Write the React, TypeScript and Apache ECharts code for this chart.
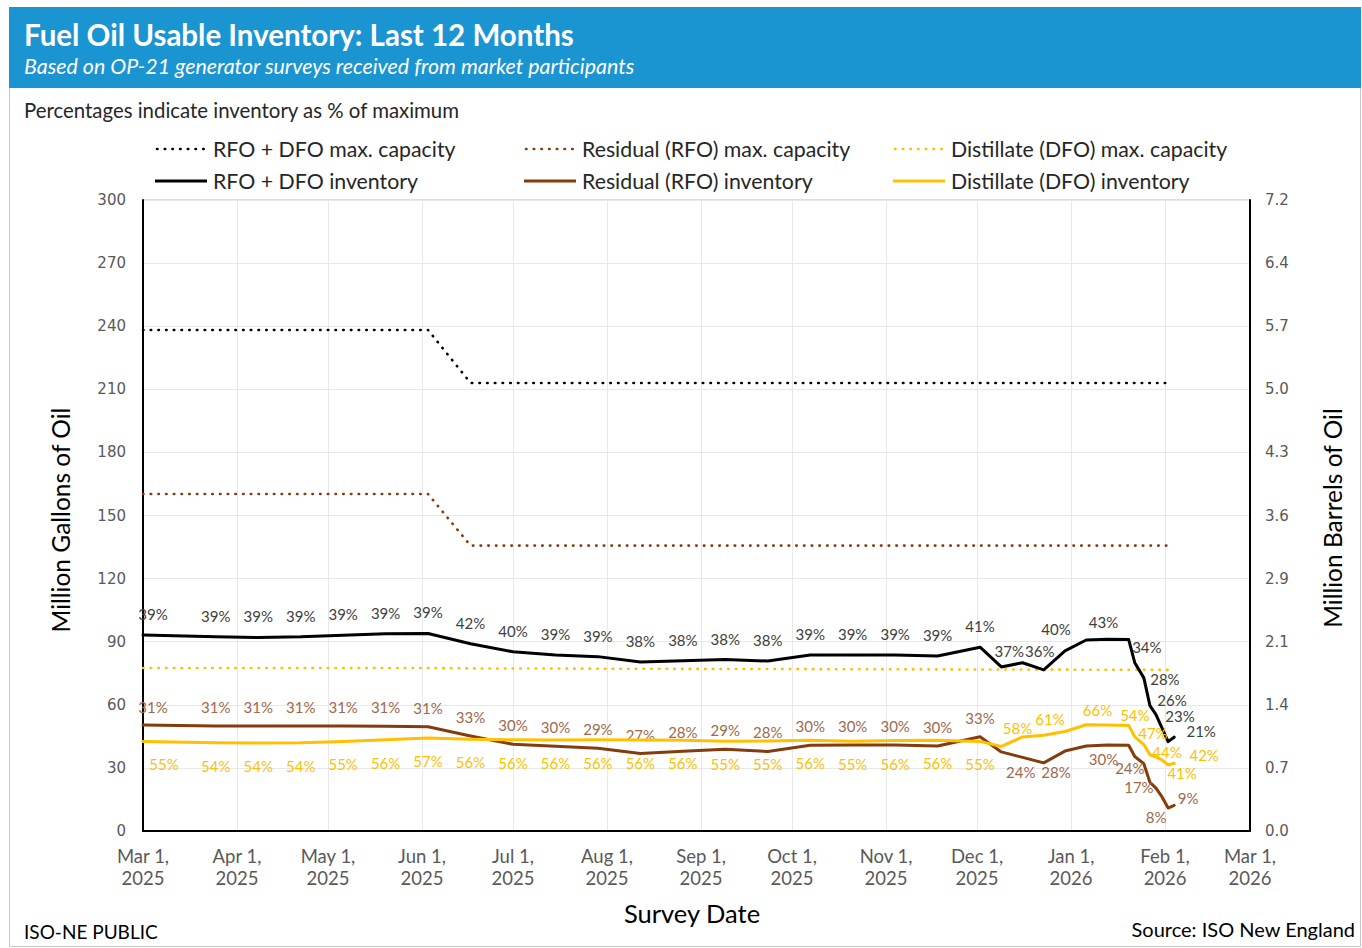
import React, { useEffect, useRef } from 'react';
import * as echarts from 'echarts';

// ---------- data ----------
const SURVEY_DATES = [
  '2025-03-01', '2025-03-25', '2025-04-08', '2025-04-22', '2025-05-06', '2025-05-20', '2025-06-03',
  '2025-06-17', '2025-07-01', '2025-07-15', '2025-07-29', '2025-08-12', '2025-08-26', '2025-09-09',
  '2025-09-23', '2025-10-07', '2025-10-21', '2025-11-04', '2025-11-18', '2025-12-02', '2025-12-09',
  '2025-12-16', '2025-12-23', '2025-12-30', '2026-01-06', '2026-01-13', '2026-01-20', '2026-01-22',
  '2026-01-25', '2026-01-27', '2026-01-29', '2026-01-31', '2026-02-02', '2026-02-04',
];
const TOTAL_INV = [
  93.2, 92.4, 92.0, 92.3, 93.1, 93.8, 93.9, 89.0, 85.2, 83.7, 82.9, 80.3, 81.0, 81.5, 80.8, 83.7, 83.7,
  83.7, 83.2, 87.4, 78.0, 80.0, 76.6, 85.6, 90.8, 91.2, 91.0, 80.0, 72.8, 59.6, 55.3, 48.9, 42.5, 44.6,
];
const RFO_INV = [
  50.4, 49.9, 49.9, 49.9, 49.9, 49.8, 49.6, 45.2, 41.2, 40.3, 39.3, 36.8, 37.9, 38.9, 37.8, 40.8, 40.9,
  40.9, 40.4, 44.8, 37.6, 35.0, 32.4, 38.0, 40.4, 40.9, 40.8, 35.4, 32.0, 23.2, 20.4, 16.2, 10.9, 12.2,
];
const DFO_INV = [
  42.6, 41.9, 41.8, 41.9, 42.6, 43.4, 44.2, 43.6, 43.4, 43.3, 43.4, 43.3, 43.2, 42.7, 42.8, 43.1, 42.7,
  43.0, 43.1, 42.6, 40.2, 44.7, 45.5, 47.3, 50.5, 50.4, 50.2, 44.8, 41.1, 36.2, 35.2, 33.8, 31.4, 32.2,
];
const TOTAL_PCT = [
  '39%', '39%', '39%', '39%', '39%', '39%', '39%', '42%', '40%', '39%', '39%', '38%', '38%', '38%',
  '38%', '39%', '39%', '39%', '39%', '41%', '37%', '', '36%', '40%', '', '43%', '', '', '34%', '28%',
  '26%', '23%', '', '21%',
];
const RFO_PCT = [
  '31%', '31%', '31%', '31%', '31%', '31%', '31%', '33%', '30%', '30%', '29%', '27%', '28%', '29%',
  '28%', '30%', '30%', '30%', '30%', '33%', '', '', '24%', '28%', '', '30%', '', '', '24%', '17%',
  '', '', '8%', '9%',
];
const DFO_PCT = [
  '55%', '54%', '54%', '54%', '55%', '56%', '57%', '56%', '56%', '56%', '56%', '56%', '56%', '55%',
  '55%', '56%', '55%', '56%', '56%', '55%', '', '58%', '', '61%', '', '66%', '', '', '54%', '47%',
  '', '44%', '41%', '42%',
];
const CAP_DATES = ['2025-03-01', '2025-06-03', '2025-06-17', '2026-02-03'];
const TOTAL_CAP = [238.2, 238.2, 213.0, 213.0];
const RFO_CAP = [160.2, 160.2, 135.7, 135.7];
const DFO_CAP = [77.5, 77.5, 77.3, 76.6];

const SERIES_NAMES = [
  'RFO + DFO max. capacity', 'Residual (RFO) max. capacity', 'Distillate (DFO) max. capacity',
  'RFO + DFO inventory', 'Residual (RFO) inventory', 'Distillate (DFO) inventory',
];
const MONTHS = ['Jan', 'Feb', 'Mar', 'Apr', 'May', 'Jun', 'Jul', 'Aug', 'Sep', 'Oct', 'Nov', 'Dec'];
const GALLON_TICKS = ['0', '30', '60', '90', '120', '150', '180', '210', '240', '270', '300'];
const BARREL_TICKS = ['0.0', '0.7', '1.4', '2.1', '2.9', '3.6', '4.3', '5.0', '5.7', '6.4', '7.2'];
const X_MIN = '2025-03-01';
const X_MAX = '2026-03-01';

// ---------- layout (label nudges, px) ----------
const TOTAL_NUDGE: Record<number, number[]> = {
  0: [10, -21], 20: [8, -16], 22: [-4, -19], 23: [-9, -22], 25: [-4, -17],
  28: [3, -31], 29: [15, -27], 30: [16, -15], 31: [18, -12], 33: [27, -6],
};
const RFO_NUDGE: Record<number, number[]> = {
  0: [10, -18], 22: [-23, 9], 23: [-9, 21], 25: [-4, 14], 28: [-14, 4], 29: [-11, 5],
  32: [-12, 9], 33: [14, -7],
};
const DFO_NUDGE: Record<number, number[]> = {
  0: [21, 23], 21: [-5, -9], 23: [-15, -13], 25: [-10, -15], 28: [-9, -30], 29: [3, -22],
  31: [5, -8], 32: [14, 8], 33: [30, -8],
};

const COLORS = ['#000000', '#843C0C', '#FFC000'];
const LABEL_COLORS = ['#404040', '#A0694B', '#FFC000'];
const FONT = 'Lato';

const toTime = (s: string) => {
  const [y, m, d] = s.split('-').map(Number);
  return new Date(y, m - 1, d).getTime();
};

function invData(vals: number[], pcts: string[], nudge: Record<number, number[]>, base: number[]) {
  return vals.map((v, i) => ({
    value: [toTime(SURVEY_DATES[i]), v],
    label: { show: pcts[i] !== '', formatter: pcts[i] || ' ', offset: nudge[i] || base },
  }));
}
function capData(vals: number[]) {
  return vals.map((v, i) => [toTime(CAP_DATES[i]), v]);
}

function text(x: number, y: number, t: string, font: string, fill: string, align = 'left', rotation = 0) {
  return {
    type: 'text', x, y, rotation, silent: true,
    style: { text: t, font, fill, align, textAlign: align, verticalAlign: 'middle', textVerticalAlign: 'middle' },
  };
}

export default function App() {
  const ref = useRef<HTMLDivElement>(null);
  useEffect(() => {
    if (!ref.current) return;
    const chart = echarts.init(ref.current, undefined, { renderer: 'svg' });

    const dotted = (color: string) => ({ color, width: 2.6, type: [0.5, 7.2], cap: 'round' });
    const capSeries = (i: number, vals: number[]) => ({
      name: SERIES_NAMES[i], type: 'line', data: capData(vals), symbol: 'none', clip: false,
      lineStyle: dotted(COLORS[i]), silent: true, z: 2,
    });
    const invSeries = (i: number, vals: number[], pcts: string[], nudge: Record<number, number[]>, base: number[]) => ({
      name: SERIES_NAMES[i + 3], type: 'line', data: invData(vals, pcts, nudge, base),
      symbol: 'circle', symbolSize: 0, showSymbol: true, clip: false, silent: true,
      itemStyle: { color: 'transparent' },
      lineStyle: { color: COLORS[i], width: 3, cap: 'round', join: 'round' },
      label: { show: true, position: 'inside', fontFamily: FONT, fontSize: 15, color: LABEL_COLORS[i] },
      emphasis: { disabled: true }, z: 3 + i,
    });

    const legendItems: any[] = [];
    const colX = [155, 524, 893];
    const rowY = [149, 181];
    SERIES_NAMES.forEach((name, k) => {
      const col = k % 3;
      const row = Math.floor(k / 3);
      const x = colX[col];
      const y = rowY[row];
      legendItems.push({
        type: 'line', silent: true,
        shape: { x1: x + (row === 0 ? 2 : 0), y1: y, x2: x + 52, y2: y },
        style: row === 0
          ? { stroke: COLORS[col], lineWidth: 2.6, lineDash: [0.5, 7.2], lineCap: 'round' }
          : { stroke: COLORS[col], lineWidth: 3 },
      });
      legendItems.push(text(x + 58, y, name, `21.3px ${FONT}`, '#262626'));
    });

    const option: any = {
      animation: false,
      textStyle: { fontFamily: FONT },
      grid: { left: 143, top: 200, width: 1107, height: 631, show: true, borderColor: '#bfbfbf', borderWidth: 1 },
      xAxis: {
        type: 'time', min: toTime(X_MIN), max: toTime(X_MAX),
        splitNumber: 12, minInterval: 28 * 86400000, maxInterval: 31 * 86400000,
        axisLine: { show: true, lineStyle: { color: '#000', width: 2 } },
        axisTick: { show: false },
        splitLine: { show: true, lineStyle: { color: '#e8e8e8', width: 1 } },
        axisLabel: {
          color: '#595959', fontFamily: FONT, fontSize: 18.5, lineHeight: 22, margin: 14,
          showMinLabel: true, showMaxLabel: true, hideOverlap: false,
          formatter: (v: number) => {
            const d = new Date(v);
            return `${MONTHS[d.getMonth()]} ${d.getDate()},\n${d.getFullYear()}`;
          },
        },
      },
      yAxis: [
        {
          type: 'value', min: 0, max: 300, interval: 30, position: 'left',
          axisLine: { show: true, lineStyle: { color: '#000', width: 2 } },
          axisTick: { show: false },
          splitLine: { show: true, lineStyle: { color: '#e8e8e8', width: 1 } },
          axisLabel: {
            color: '#595959', fontFamily: 'DejaVu Sans', fontSize: 15, margin: 17,
            formatter: (v: number) => GALLON_TICKS[Math.round(v / 30)],
          },
        },
        {
          type: 'value', min: 0, max: 300, interval: 30, position: 'right',
          axisLine: { show: true, lineStyle: { color: '#000', width: 2 } },
          axisTick: { show: false },
          splitLine: { show: false },
          axisLabel: {
            color: '#595959', fontFamily: 'DejaVu Sans', fontSize: 15, margin: 15,
            formatter: (v: number) => BARREL_TICKS[Math.round(v / 30)],
          },
        },
      ],
      series: [
        capSeries(0, TOTAL_CAP),
        capSeries(1, RFO_CAP),
        capSeries(2, DFO_CAP),
        invSeries(0, TOTAL_INV, TOTAL_PCT, TOTAL_NUDGE, [0, -21]),
        invSeries(1, RFO_INV, RFO_PCT, RFO_NUDGE, [0, -19]),
        invSeries(2, DFO_INV, DFO_PCT, DFO_NUDGE, [0, 23]),
      ],
      graphic: [
        { type: 'rect', silent: true, z: -10, shape: { x: 9.5, y: 7.5, width: 1351, height: 939 }, style: { fill: 'none', stroke: '#c8c8c8', lineWidth: 1 } },
        { type: 'rect', silent: true, z: -5, shape: { x: 9, y: 7, width: 1352, height: 81 }, style: { fill: '#1B94D2' } },
        text(24, 34, 'Fuel Oil Usable Inventory: Last 12 Months', `bold 29.5px ${FONT}`, '#ffffff'),
        text(24, 66, 'Based on OP-21 generator surveys received from market participants', `italic 21.4px ${FONT}`, '#ffffff'),
        text(24, 110, 'Percentages indicate inventory as % of maximum', `20.4px ${FONT}`, '#262626'),
        ...legendItems,
        text(60, 520, 'Million Gallons of Oil', `24.5px ${FONT}`, '#000000', 'center', Math.PI / 2),
        text(1332, 518, 'Million Barrels of Oil', `24.5px ${FONT}`, '#000000', 'center', Math.PI / 2),
        text(692, 913, 'Survey Date', `25.5px ${FONT}`, '#000000', 'center'),
        text(24, 931, 'ISO-NE PUBLIC', `19px ${FONT}`, '#000000'),
        text(1355, 929, 'Source: ISO New England', `20px ${FONT}`, '#000000', 'right'),
      ],
    };
    chart.setOption(option);
    return () => chart.dispose();
  }, []);
  return (
    <div
      ref={ref}
      style={{ position: 'fixed', left: 0, top: 0, width: 1362, height: 948, background: '#ffffff' }}
    />
  );
}
